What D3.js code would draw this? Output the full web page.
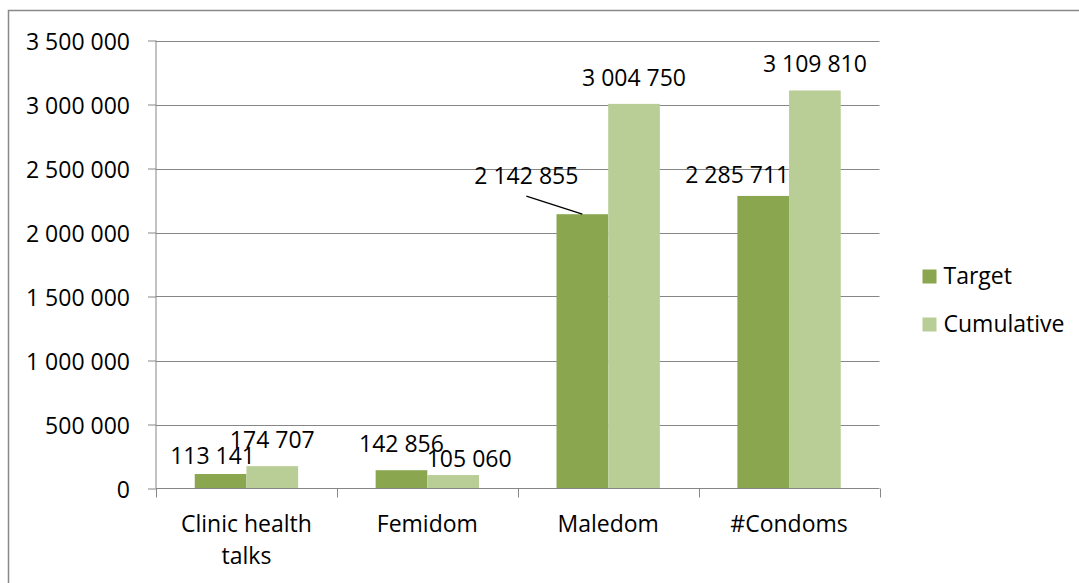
<!DOCTYPE html>
<html>
<head>
<meta charset="utf-8">
<script src="https://cdn.jsdelivr.net/npm/d3@7"></script>
<style>
  html, body { margin: 0; padding: 0; background: #fff; }
  svg { display: block; font-family: "Open Sans", sans-serif; }
</style>
</head>
<body>
<svg id="chart" width="1079" height="583"></svg>
<script>
// ---- data ----
const categories = ["Clinic health talks", "Femidom", "Maledom", "#Condoms"];
const categoryLines = [["Clinic health", "talks"], ["Femidom"], ["Maledom"], ["#Condoms"]];
const seriesNames = ["Target", "Cumulative"];
const targetValues = [113141, 142856, 2142855, 2285711];
const cumulativeValues = [174707, 105060, 3004750, 3109810];
const yTicks = [0, 500000, 1000000, 1500000, 2000000, 2500000, 3000000, 3500000];
const colors = ["#8AA64F", "#B9CE96"];

// label nudges (dx, dy) per series/category, as placed in the reference
const labelNudgeTarget = [[-8, 8], [0, 0], [-56, -12], [-26, 5]];
const labelNudgeCumulative = [[0, 0], [16, 10], [0, 0], [0, 0]];
const leaderLines = [[false, false], [false, false], [true, false], [false, false]];

// ---- layout ----
const svg = d3.select("#chart");
const plot = { left: 156, right: 879.5, top: 40.5, bottom: 488.5 };
const fontSize = 23;

// outer frame
svg.append("rect")
  .attr("x", 8.5).attr("y", 10.5)
  .attr("width", 1100).attr("height", 620)
  .attr("fill", "none").attr("stroke", "#898989").attr("stroke-width", 1.5);

const x = d3.scaleBand().domain(categories).range([plot.left, plot.right]).padding(0);
const xInner = d3.scaleBand().domain(seriesNames).range([0, x.bandwidth()])
  .paddingInner(0).paddingOuter(0.75);
const y = d3.scaleLinear().domain([0, 3500000]).range([plot.bottom, plot.top]);

const fmt = v => d3.format(",")(v).replace(/,/g, " ");

// gridlines
svg.append("g").selectAll("line").data(yTicks.filter(t => t > 0)).join("line")
  .attr("x1", plot.left).attr("x2", plot.right)
  .attr("y1", d => Math.round(y(d)) + 0.5).attr("y2", d => Math.round(y(d)) + 0.5)
  .attr("stroke", "#868686").attr("stroke-width", 1);

// y axis
const yAxis = d3.axisLeft(y).tickValues(yTicks).tickSize(8).tickPadding(18).tickFormat(fmt);
const gy = svg.append("g").attr("transform", `translate(${plot.left},0)`).call(yAxis);
gy.select(".domain").remove();
gy.selectAll(".tick line").attr("stroke", "#868686");
gy.selectAll(".tick text").attr("font-size", fontSize).attr("fill", "#000")
  .attr("font-family", "Open Sans, sans-serif").attr("dy", "0.4em");
svg.append("line").attr("x1", plot.left).attr("x2", plot.left)
  .attr("y1", plot.top).attr("y2", plot.bottom)
  .attr("stroke", "#868686");

// bars
const seriesValues = [targetValues, cumulativeValues];
const barData = [];
categories.forEach((c, i) => {
  seriesNames.forEach((s, j) => {
    barData.push({ c, i, s, j, v: seriesValues[j][i] });
  });
});
svg.append("g").selectAll("rect").data(barData).join("rect")
  .attr("x", d => x(d.c) + xInner(d.s))
  .attr("width", xInner.bandwidth())
  .attr("y", d => y(d.v))
  .attr("height", d => y(0) - y(d.v))
  .attr("fill", d => colors[d.j]);

// x axis
svg.append("line").attr("x1", plot.left).attr("x2", plot.right)
  .attr("y1", plot.bottom).attr("y2", plot.bottom).attr("stroke", "#868686");
const tickXs = categories.map(c => x(c)).concat([plot.right]);
svg.append("g").selectAll("line").data(tickXs).join("line")
  .attr("x1", d => Math.round(d) + 0.5).attr("x2", d => Math.round(d) + 0.5)
  .attr("y1", plot.bottom).attr("y2", plot.bottom + 9)
  .attr("stroke", "#868686");

// category labels
categories.forEach((c, i) => {
  const t = svg.append("text")
    .attr("x", x(c) + x.bandwidth() / 2)
    .attr("y", plot.bottom + 43)
    .attr("text-anchor", "middle").attr("font-size", fontSize).attr("fill", "#000");
  categoryLines[i].forEach((ln, k) => {
    t.append("tspan").attr("x", x(c) + x.bandwidth() / 2).attr("dy", k === 0 ? 0 : 32).text(ln);
  });
});

// data labels
const nudges = [labelNudgeTarget, labelNudgeCumulative];
barData.forEach(d => {
  const cx = x(d.c) + xInner(d.s) + xInner.bandwidth() / 2;
  const top = y(d.v);
  const [dx, dy] = nudges[d.j][d.i];
  const lx = cx + dx, ly = top - 18 + dy;
  svg.append("text").attr("x", lx).attr("y", ly)
    .attr("text-anchor", "middle").attr("font-size", fontSize).attr("fill", "#000")
    .text(fmt(d.v));
  if (leaderLines[d.i][d.j]) {
    svg.append("line")
      .attr("x1", lx).attr("y1", ly + 12)
      .attr("x2", cx).attr("y2", top)
      .attr("stroke", "#000").attr("stroke-width", 1.3);
  }
});

// legend
const legend = svg.append("g");
seriesNames.forEach((s, j) => {
  legend.append("rect").attr("x", 922.5).attr("y", 269.5 + j * 48)
    .attr("width", 14).attr("height", 14).attr("fill", colors[j]);
  legend.append("text").attr("x", 943.5).attr("y", 284 + j * 48)
    .attr("font-size", fontSize).attr("fill", "#000").text(s);
});
</script>
</body>
</html>
